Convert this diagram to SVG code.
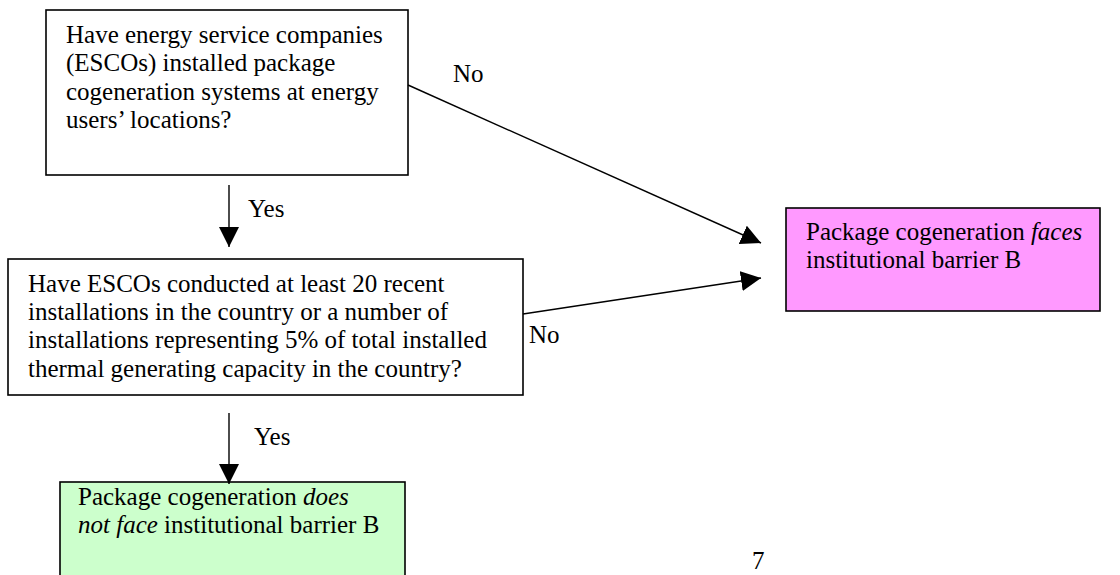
<svg xmlns="http://www.w3.org/2000/svg" width="1120" height="575" viewBox="0 0 1120 575">
<style>
.box{stroke:#000;stroke-width:1.6}
.t{font-family:"Liberation Serif","Times New Roman",serif;font-size:25px;fill:#000}
.c{stroke:#000;stroke-width:1.4;fill:none}
</style>
<defs>
<marker id="ah" markerUnits="userSpaceOnUse" markerWidth="20" markerHeight="20" viewBox="0 0 19 19" refX="19" refY="9.5" orient="auto">
<path d="M0,0 L19,9.5 L0,19 Z" fill="#000"/>
</marker>
</defs>
<rect width="1120" height="575" fill="#fff"/>
<g id="q1">
<rect class="box" x="46" y="10" width="362" height="165" fill="#fff"/>
<text class="t" x="66" y="43">Have energy service companies</text>
<text class="t" x="66" y="71">(ESCOs) installed package</text>
<text class="t" x="66" y="100">cogeneration systems at energy</text>
<text class="t" x="66" y="128">users’ locations?</text>
</g>
<g id="q2">
<rect class="box" x="8" y="259" width="515" height="136" fill="#fff"/>
<text class="t" x="28" y="292">Have ESCOs conducted at least 20 recent</text>
<text class="t" x="28" y="320">installations in the country or a number of</text>
<text class="t" x="28" y="348">installations representing 5% of total installed</text>
<text class="t" x="28" y="377">thermal generating capacity in the country?</text>
</g>
<g id="faces">
<rect class="box" x="786" y="208" width="314" height="103" fill="#FF99FF"/>
<text class="t" x="806" y="240">Package cogeneration <tspan font-style="italic">faces</tspan></text>
<text class="t" x="806" y="268">institutional barrier B</text>
</g>
<g id="notface">
<rect class="box" x="60" y="482" width="345" height="110" fill="#CCFFCC"/>
<text class="t" x="78" y="505">Package cogeneration <tspan font-style="italic">does</tspan></text>
<text class="t" x="78" y="533"><tspan font-style="italic">not face</tspan> institutional barrier B</text>
</g>
<g id="connectors">
<line class="c" x1="229" y1="185" x2="229" y2="247" marker-end="url(#ah)"/>
<line class="c" x1="229" y1="413" x2="229" y2="484" marker-end="url(#ah)"/>
<line class="c" x1="408" y1="85" x2="761" y2="243" marker-end="url(#ah)"/>
<line class="c" x1="523" y1="314" x2="761" y2="278" marker-end="url(#ah)"/>
<text class="t" x="248" y="217">Yes</text>
<text class="t" x="254" y="445">Yes</text>
<text class="t" x="453" y="82">No</text>
<text class="t" x="529" y="343">No</text>
</g>
<text class="t" x="752" y="569">7</text>
</svg>
